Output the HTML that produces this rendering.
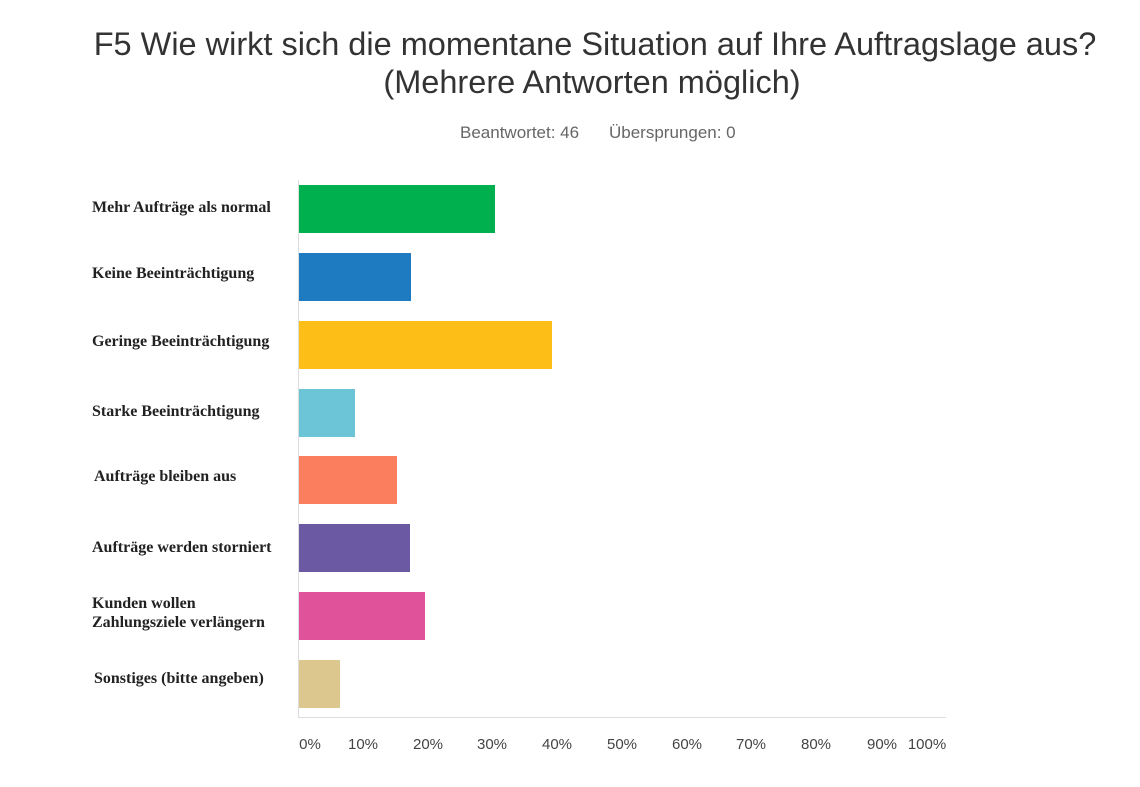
<!DOCTYPE html>
<html><head><meta charset="utf-8"><style>
body{margin:0;width:1140px;height:787px;background:#fff;position:relative;overflow:hidden;font-family:"Liberation Sans",sans-serif}
.t{position:absolute;left:0;width:1190px;text-align:center;color:#333;font-size:32.5px;line-height:38px}
.l{position:absolute;left:92px;font-family:"Liberation Serif",serif;font-weight:bold;font-size:16px;color:#222;line-height:19px}
.b{position:absolute;left:299px;height:48px}
.x{position:absolute;top:736px;font-size:15px;color:#444;width:50px;text-align:center}
</style></head><body>
<div class="t" style="top:25px">F5 Wie wirkt sich die momentane Situation auf Ihre Auftragslage aus?</div>
<div class="t" style="top:63px;width:1184px">(Mehrere Antworten möglich)</div>
<div style="position:absolute;top:123px;left:460px;font-size:17px;color:#666">Beantwortet: 46</div>
<div style="position:absolute;top:123px;left:609px;font-size:17px;color:#666">Übersprungen: 0</div>
<div style="position:absolute;left:298px;top:180px;width:1px;height:537px;background:#ddd"></div>
<div style="position:absolute;left:298px;top:717px;width:648px;height:1px;background:#ddd"></div>
<div class="l" style="top:198px">Mehr Aufträge als normal</div>
<div class="l" style="top:264px">Keine Beeinträchtigung</div>
<div class="l" style="top:332px">Geringe Beeinträchtigung</div>
<div class="l" style="top:402px">Starke Beeinträchtigung</div>
<div class="l" style="top:467px;left:94px">Aufträge bleiben aus</div>
<div class="l" style="top:538px">Aufträge werden storniert</div>
<div class="l" style="top:594px">Kunden wollen<br>Zahlungsziele verlängern</div>
<div class="l" style="top:669px;left:94px">Sonstiges (bitte angeben)</div>
<div class="b" style="top:185px;width:196px;background:#00b04f"></div>
<div class="b" style="top:253px;width:112px;background:#1f7bc1"></div>
<div class="b" style="top:321px;width:253px;background:#fdbf17"></div>
<div class="b" style="top:389px;width:56px;background:#6cc5d6"></div>
<div class="b" style="top:456px;width:98px;background:#fb7f5e"></div>
<div class="b" style="top:524px;width:111px;background:#6b5aa3"></div>
<div class="b" style="top:592px;width:126px;background:#e0539b"></div>
<div class="b" style="top:660px;width:41px;background:#dcc88e"></div>
<div class="x" style="left:285px">0%</div>
<div class="x" style="left:338px">10%</div>
<div class="x" style="left:403px">20%</div>
<div class="x" style="left:467px">30%</div>
<div class="x" style="left:532px">40%</div>
<div class="x" style="left:597px">50%</div>
<div class="x" style="left:662px">60%</div>
<div class="x" style="left:726px">70%</div>
<div class="x" style="left:791px">80%</div>
<div class="x" style="left:857px">90%</div>
<div class="x" style="left:902px">100%</div>
</body></html>
